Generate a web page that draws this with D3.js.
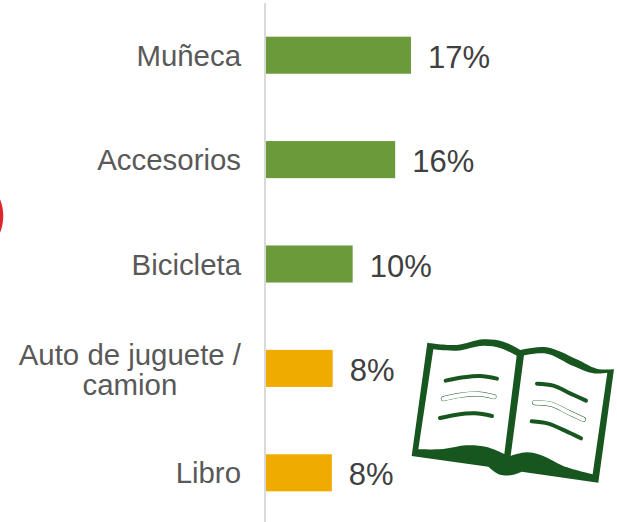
<!DOCTYPE html>
<html><head><meta charset="utf-8">
<script src="https://cdn.jsdelivr.net/npm/d3@7/dist/d3.min.js"></script>
<style>html,body{margin:0;padding:0;background:#fff;overflow:hidden}svg{display:block}text{font-family:"Liberation Sans",Arial,sans-serif}</style>
</head><body><svg id="c" width="617" height="522"></svg>
<script>
const categories = ["Muñeca","Accesorios","Bicicleta","Auto de juguete / camion","Libro"];
const values = [17.4,15.5,10.4,8.0,7.9];
const valueLabels = ["17%","16%","10%","8%","8%"];
const barColors = ["#6A9A3A","#6A9A3A","#6A9A3A","#F0AB00","#F0AB00"];

const svg = d3.select("#c");
const x = d3.scaleLinear().domain([0,17.4]).range([266,411]);
const y = d3.scaleBand().domain(categories).range([3,525]).paddingInner(0.645).paddingOuter(0.3225);

// decorative red ring cut by the left edge
svg.append("circle").attr("cx",-40).attr("cy",216).attr("r",41.5)
  .attr("fill","none").attr("stroke","#E1232B").attr("stroke-width",3.5);

// bars
svg.selectAll("rect.bar").data(categories).join("rect").attr("class","bar")
  .attr("x",x(0)).attr("y",d=>y(d)).attr("height",y.bandwidth())
  .attr("width",(d,i)=>x(values[i])-x(0)).attr("fill",(d,i)=>barColors[i]);

// category axis
const axis = svg.append("g").attr("transform","translate(265,0)")
  .call(d3.axisLeft(y).tickSize(0).tickPadding(24));
axis.select(".domain").attr("stroke","#D9D9D9").attr("stroke-width",2).attr("d","M0,3V522");
axis.selectAll("text").attr("font-size",29.4).attr("fill","#595959")
  .style("font-family",'"Liberation Sans",Arial,sans-serif').attr("dy","0.36em")
  .each(function(d){
    if(d.indexOf(" / ")<0) return;
    const t=d3.select(this), parts=[d.slice(0,d.indexOf(" / ")+2),d.slice(d.indexOf(" / ")+3)];
    t.text(null);
    const a=t.append("tspan").text(parts[0]).attr("x",-24).attr("dy","-0.12em");
    const w=a.node().getComputedTextLength();
    t.attr("text-anchor","middle");
    a.attr("x",-24-w/2);
    t.append("tspan").text(parts[1]).attr("x",-24-w/2).attr("dy","1.02em");
  });

// value labels
svg.selectAll("text.val").data(categories).join("text").attr("class","val")
  .attr("x",(d,i)=>x(values[i])+17).attr("y",d=>y(d)+y.bandwidth()/2+1.5)
  .attr("dy","0.36em").attr("font-size",31).attr("fill","#404040")
  .text((d,i)=>valueLabels[i]);

// book icon, outlined in the zoomed reference's coordinates
const curve = d3.line().curve(d3.curveCatmullRom.alpha(0.5));
const seg = pts => curve(pts);
const chain = parts => parts.map((p,i)=> i? seg(p).replace(/^M/,"L") : seg(p)).join("") + "Z";
const outer = chain([
 [[82,38],[170,45],[250,28],[310,35],[362,60]],
 [[362,60],[440,52],[530,88],[590,116],[642,118]],
 [[642,118],[595,458]],
 [[595,458],[365,425]],
 [[365,425],[340,434],[300,434],[265,410]],
 [[265,410],[35,378]]]);
const leftPage = chain([
 [[100,58],[170,62],[250,47],[300,54],[350,77]],
 [[350,77],[313,372]],
 [[313,372],[260,351],[200,346],[130,357],[55,358]]]);
const rightPage = chain([
 [[372,76],[440,71],[520,108],[580,130],[622,128]],
 [[622,128],[578,433]],
 [[578,433],[490,408],[430,378],[380,367],[332,378]]]);
const book = svg.append("g").attr("transform","translate(400,330) scale(0.3333)").attr("fill","#17561F");
book.append("path").attr("fill-rule","evenodd").attr("d",outer+leftPage+rightPage);
const strokes = [
 [[137,152],[190,142],[240,138],[291,146]],
 [[120,264],[170,254],[225,250],[276,258]],
 [[411,161],[460,167],[510,190],[558,212]],
 [[395,274],[445,281],[495,302],[543,325]]];
book.selectAll("path.s").data(strokes).join("path").attr("class","s").attr("d",d=>curve(d))
  .attr("fill","none").attr("stroke","#17561F").attr("stroke-width",12).attr("stroke-linecap","round");
const ghosts = [
 [[130,206],[180,196],[235,192],[282,200]],
 [[404,218],[455,223],[505,247],[550,268]]];
book.selectAll("path.g").data(ghosts).join("path").attr("class","g").attr("d",d=>curve(d))
  .attr("fill","none").attr("stroke","#17561F").attr("stroke-width",15).attr("stroke-linecap","round");
book.selectAll("path.h").data(ghosts).join("path").attr("class","h").attr("d",d=>curve(d))
  .attr("fill","none").attr("stroke","#fff").attr("stroke-width",12.5).attr("stroke-linecap","round");
</script></body></html>
